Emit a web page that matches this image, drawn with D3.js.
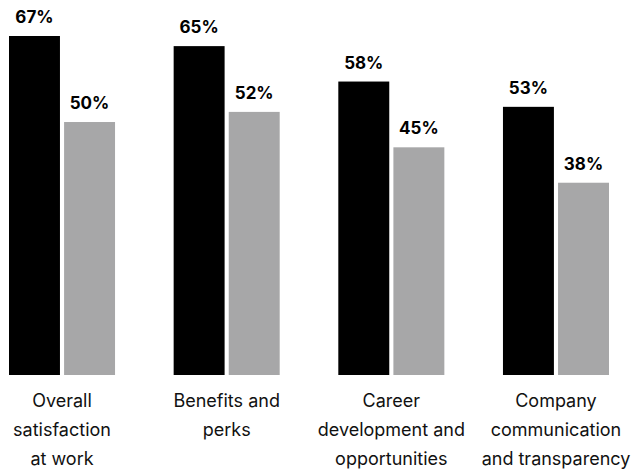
<!DOCTYPE html>
<html>
<head>
<meta charset="utf-8">
<script src="https://cdn.jsdelivr.net/npm/d3@7"></script>
<style>
  html, body { margin: 0; padding: 0; background: #fff; }
  svg { display: block; }
</style>
</head>
<body>
<svg id="chart" width="633" height="469"></svg>
<script>
// Survey results: two groups per category
const categories = [
  "Overall satisfaction at work",
  "Benefits and perks",
  "Career development and opportunities",
  "Company communication and transparency"
];
const categoryLines = [
  ["Overall", "satisfaction", "at work"],
  ["Benefits and", "perks"],
  ["Career", "development and", "opportunities"],
  ["Company", "communication", "and transparency"]
];
const seriesA = [67, 65, 58, 53];
const seriesB = [50, 52, 45, 38];
const seriesKeys = ["A", "B"];
const colors = { A: "#000000", B: "#a7a7a8" };

const svg = d3.select("#chart");

const x0 = d3.scaleBand()
  .domain(categories)
  .range([9, 609])
  .paddingInner(0.356)
  .paddingOuter(0);

const x1 = d3.scaleBand()
  .domain(seriesKeys)
  .range([0, x0.bandwidth()])
  .paddingInner(0.075);

const y = d3.scaleLinear()
  .domain([0, 67])
  .range([375, 36]);

const rows = categories.map((c, i) => ({
  cat: c,
  lines: categoryLines[i],
  values: [{ key: "A", v: seriesA[i] }, { key: "B", v: seriesB[i] }]
}));

const groups = svg.selectAll("g.grp")
  .data(rows)
  .join("g")
  .attr("class", "grp")
  .attr("transform", d => `translate(${x0(d.cat)},0)`);

groups.selectAll("rect")
  .data(d => d.values)
  .join("rect")
  .attr("x", d => x1(d.key))
  .attr("y", d => y(d.v))
  .attr("width", x1.bandwidth())
  .attr("height", d => y(0) - y(d.v))
  .attr("fill", d => colors[d.key]);

groups.selectAll("text.val")
  .data(d => d.values)
  .join("text")
  .attr("class", "val")
  .attr("x", d => x1(d.key) + x1.bandwidth() / 2)
  .attr("y", d => y(d.v) - 13)
  .attr("text-anchor", "middle")
  .attr("font-family", "Inter, Lato, sans-serif")
  .attr("font-weight", 700)
  .attr("font-size", 17)
  .attr("fill", "#000")
  .text(d => d.v + "%");

groups.append("text")
  .attr("class", "cat")
  .attr("x", x0.bandwidth() / 2)
  .attr("text-anchor", "middle")
  .attr("font-family", "Inter, Lato, sans-serif")
  .attr("font-size", 18)
  .attr("fill", "#111")
  .selectAll("tspan")
  .data(d => d.lines)
  .join("tspan")
  .attr("x", x0.bandwidth() / 2)
  .attr("y", (d, i) => 407 + i * 29)
  .text(d => d);
</script>
</body>
</html>
